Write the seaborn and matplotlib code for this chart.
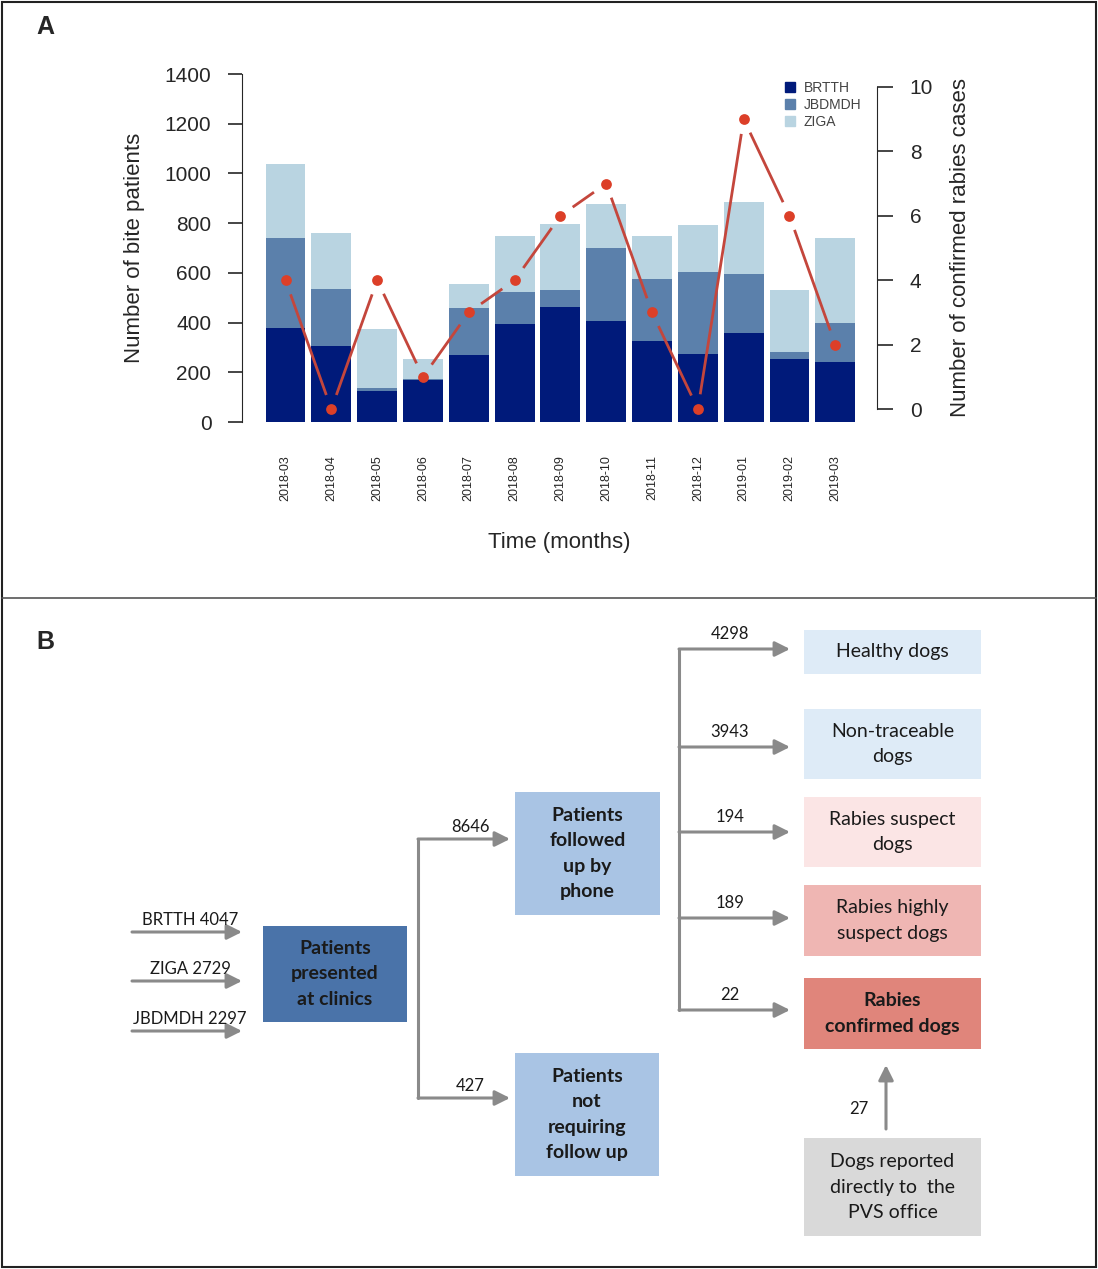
import numpy as np
import pandas as pd
import matplotlib
matplotlib.use("Agg")
import matplotlib.pyplot as plt
from matplotlib.patches import Patch, Rectangle
import seaborn as sns

# ---- panel A data ----
months = ["2018-03", "2018-04", "2018-05", "2018-06", "2018-07", "2018-08", "2018-09",
          "2018-10", "2018-11", "2018-12", "2019-01", "2019-02", "2019-03"]
brtth = [378, 305, 123, 170, 268, 393, 462, 405, 325, 275, 358, 254, 240]
jbdmdh = [364, 232, 15, 2, 191, 132, 68, 297, 252, 330, 238, 28, 159]
ziga = [296, 225, 238, 83, 95, 224, 266, 177, 171, 186, 289, 250, 343]
rabies_cases = [4, 0, 4, 1, 3, 4, 6, 7, 3, 0, 9, 6, 2]

site_names = ["BRTTH", "JBDMDH", "ZIGA"]
site_colors = ["#001a7a", "#5b80ab", "#b9d4e1"]

# ---- panel B data (flow diagram) ----
intake_sites = ["BRTTH", "ZIGA", "JBDMDH"]
intake_counts = [4047, 2729, 2297]
followup_counts = [8646, 427]
outcome_labels = ["Healthy dogs", "Non-traceable\ndogs", "Rabies suspect\ndogs",
                  "Rabies highly\nsuspect dogs", "Rabies\nconfirmed dogs"]
outcome_counts = [4298, 3943, 194, 189, 22]
outcome_colors = ["#deebf7", "#deebf7", "#fbe5e5", "#efb6b3", "#e0857b"]
direct_count = 27

df = pd.DataFrame({"month": months, "BRTTH": brtth, "JBDMDH": jbdmdh, "ZIGA": ziga})
df["c1"] = df["BRTTH"]
df["c2"] = df["BRTTH"] + df["JBDMDH"]
df["c3"] = df["c2"] + df["ZIGA"]

sns.set_style("ticks")
plt.rcParams["font.family"] = ["Liberation Sans", "DejaVu Sans"]

W, H = 1098, 1269
fig = plt.figure(figsize=(W / 100, H / 100), dpi=100)

# full-figure axes in pixel coords for the frame and the flow diagram
axb = fig.add_axes([0, 0, 1, 1])
axb.set_xlim(0, W)
axb.set_ylim(H, 0)
axb.axis("off")
axb.add_patch(Rectangle((2, 2), W - 4, H - 4, fill=False, ec="#222222", lw=1.5))
axb.plot([2, W - 2], [598, 598], color="#555555", lw=1.2)
axb.text(36, 27, "A", fontsize=18, fontweight="bold", va="center")
axb.text(36, 642, "B", fontsize=18, fontweight="bold", va="center")

# ---- panel A ----
ax = fig.add_axes([242 / W, 1 - 422 / H, (877 - 242) / W, (422 - 74) / H])
ax.patch.set_alpha(0)
for col, color in zip(["c3", "c2", "c1"], site_colors[::-1]):
    sns.barplot(data=df, x="month", y=col, color=color, saturation=1,
                width=0.87, linewidth=0, ax=ax)
ax.set_ylim(0, 1400)
ax.set_yticks(range(0, 1401, 200))
ax.spines[["top", "right", "bottom"]].set_visible(False)
ax.spines["left"].set_bounds(0, 1400)
ax.tick_params(axis="y", length=10, width=1.2, labelsize=15, pad=12)
ax.set_xticks(range(len(months)))
ax.set_xticklabels(months, rotation=90)
ax.tick_params(axis="x", length=0, labelsize=9, pad=24)
ax.set_ylabel("Number of bite patients", fontsize=16, labelpad=14)
ax.set_xlabel("Time (months)", fontsize=16, labelpad=22)
ax.set_xlim(-0.95, 12.91)

ax2 = ax.twinx()
ax2.set_ylim(-0.4, 10.4)
ax2.set_xlim(-0.95, 12.91)
ax2.set_autoscale_on(False)
xs = np.arange(len(months))
# line segments stop short of the points (R type="b" look)
pts = ax2.transData.transform(np.column_stack([xs, rabies_cases]).astype(float))
gap = 15
inv = ax2.transData.inverted()
for p0, p1 in zip(pts[:-1], pts[1:]):
    d = p1 - p0
    u = d / np.hypot(*d)
    seg = inv.transform(np.array([p0 + u * gap, p1 - u * gap]))
    ax2.plot(seg[:, 0], seg[:, 1], color="#c4463c", lw=2, solid_capstyle="butt")
sns.scatterplot(x=xs, y=rabies_cases, ax=ax2, color="#dc3f28", s=60, linewidth=0, zorder=3)
ax2.set_ylim(-0.4, 10.4)
ax2.set_yticks(range(0, 11, 2))
ax2.spines[["top", "left", "bottom"]].set_visible(False)
ax2.spines["right"].set_bounds(0, 10)
ax2.tick_params(axis="y", length=11.5, width=1.2, labelsize=15, pad=12)
ax2.set_ylabel("Number of confirmed rabies cases", fontsize=16, labelpad=12)
ax.set_xlim(-0.95, 12.91)

handles = [Patch(color=c, label=n) for n, c in zip(site_names, site_colors)]
ax.legend(handles=handles, loc="upper left", bbox_to_anchor=(785 / W, 1 - 81 / H),
          bbox_transform=fig.transFigure, frameon=False, fontsize=10,
          handlelength=0.75, handleheight=0.75, handletextpad=0.6, labelspacing=0.2,
          borderaxespad=0, borderpad=0, labelcolor="#444444")

# ---- panel B ----
FB = ["Lato", "DejaVu Sans"]
gray = "#8a8a8a"


def box(x0, y0, x1, y1, color, text, bold=False):
    axb.add_patch(Rectangle((x0, y0), x1 - x0, y1 - y0, color=color, lw=0))
    axb.text((x0 + x1) / 2, (y0 + y1) / 2, text, ha="center", va="center",
             fontsize=14, family=FB, color="#1a1a1a", linespacing=1.58,
             fontweight="bold" if bold else "normal")


def arrow(x0, y0, x1, y1):
    axb.annotate("", xy=(x1, y1), xytext=(x0, y0),
                 arrowprops=dict(arrowstyle="-|>,head_length=0.6,head_width=0.3",
                                 color=gray, lw=2.2, shrinkA=0, shrinkB=0,
                                 mutation_scale=15))


def label(x, y, text):
    axb.text(x, y, text, ha="center", va="center", fontsize=12, family=FB, color="#1a1a1a")


# intake arrows
for y, site, n in zip([932, 981, 1031], intake_sites, intake_counts):
    arrow(132, y, 242, y)
    label(190, y - 12, f"{site} {n}")

box(263, 926, 407, 1022, "#4a73a9", "Patients\npresented\nat clinics", bold=True)

# clinic split
axb.plot([418, 418], [839, 1098], color=gray, lw=2.2)
for y, n in zip([839, 1098], followup_counts):
    arrow(418, y, 510, y)
    label(470, y - 12, str(n))

box(515, 792, 660, 915, "#a9c4e4", "Patients\nfollowed\nup by\nphone", bold=True)
box(515, 1053, 659, 1176, "#a9c4e4", "Patients\nnot\nrequiring\nfollow up", bold=True)

# outcome split
out_y = [649, 747, 832, 918, 1010]
out_boxes = [(630, 674), (709, 779), (797, 867), (885, 956), (978, 1049)]
axb.plot([679, 679], [out_y[0], out_y[-1]], color=gray, lw=2.2)
for i, (y, n) in enumerate(zip(out_y, outcome_counts)):
    arrow(679, y, 790, y)
    label(730, y - 15, str(n))
    y0, y1 = out_boxes[i]
    box(804, y0, 981, y1, outcome_colors[i], outcome_labels[i], bold=(i == 4))

box(804, 1138, 981, 1236, "#d9d9d9", "Dogs reported\ndirectly to  the\nPVS office")
arrow(886, 1129, 886, 1065)
label(859, 1109, str(direct_count))

fig.savefig("out.png", dpi=100)
